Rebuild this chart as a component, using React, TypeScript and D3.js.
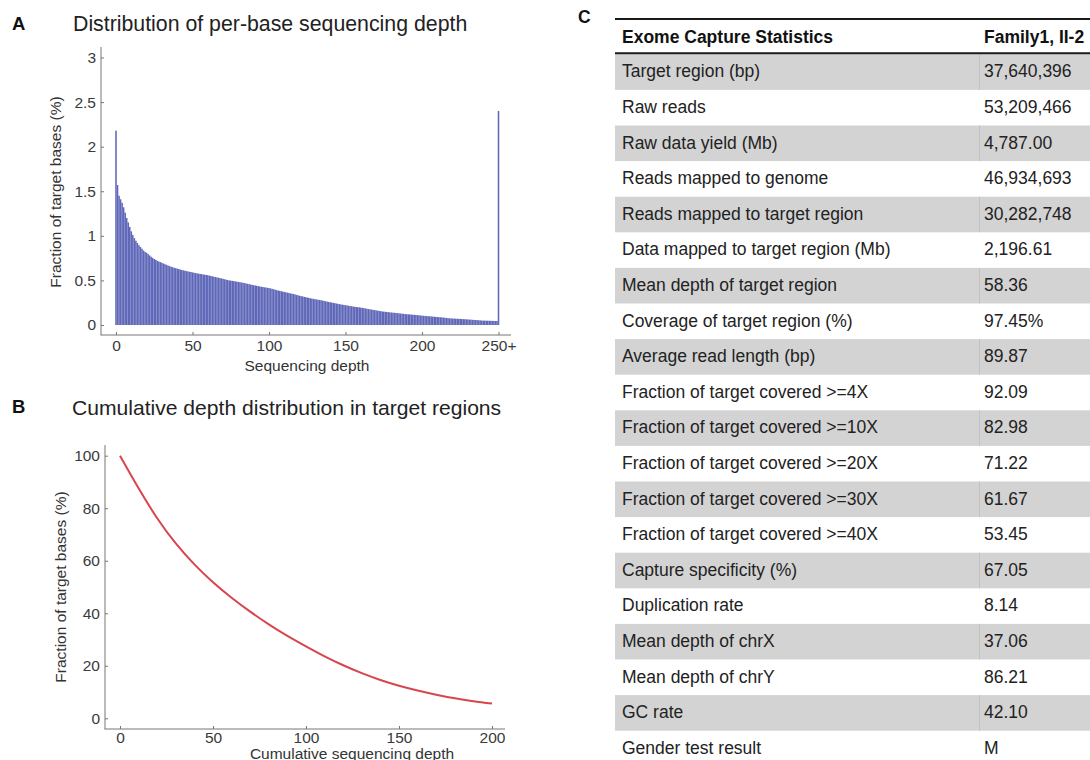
import React, { useEffect, useRef } from 'react';
import * as d3 from 'd3';

// A: fraction of target bases (%) per sequencing depth 0..250 (last bin is 250+)
const depthFraction = [
  2.18, 1.57, 1.45, 1.41, 1.37, 1.32, 1.26, 1.2, 1.15, 1.1,
  1.05, 1.01, 0.975, 0.945, 0.92, 0.895, 0.875, 0.855, 0.835, 0.82,
  0.81, 0.795, 0.78, 0.765, 0.752, 0.74, 0.73, 0.72, 0.712, 0.705,
  0.698, 0.69, 0.682, 0.674, 0.667, 0.66, 0.654, 0.648, 0.642, 0.637,
  0.632, 0.627, 0.622, 0.617, 0.613, 0.609, 0.605, 0.601, 0.597, 0.594,
  0.59, 0.586, 0.582, 0.579, 0.576, 0.573, 0.57, 0.567, 0.564, 0.561,
  0.558, 0.554, 0.55, 0.546, 0.542, 0.538, 0.534, 0.53, 0.526, 0.522,
  0.518, 0.513, 0.508, 0.504, 0.5, 0.498, 0.495, 0.492, 0.489, 0.486,
  0.483, 0.48, 0.477, 0.474, 0.47, 0.466, 0.462, 0.458, 0.454, 0.45,
  0.446, 0.443, 0.44, 0.436, 0.432, 0.429, 0.426, 0.423, 0.42, 0.417,
  0.414, 0.41, 0.406, 0.401, 0.396, 0.391, 0.387, 0.383, 0.379, 0.375,
  0.371, 0.367, 0.363, 0.359, 0.355, 0.351, 0.347, 0.343, 0.338, 0.333,
  0.328, 0.324, 0.32, 0.316, 0.312, 0.308, 0.304, 0.3, 0.296, 0.293,
  0.29, 0.287, 0.284, 0.281, 0.278, 0.274, 0.27, 0.266, 0.262, 0.258,
  0.255, 0.252, 0.248, 0.245, 0.241, 0.238, 0.234, 0.231, 0.228, 0.225,
  0.222, 0.219, 0.216, 0.213, 0.21, 0.207, 0.204, 0.202, 0.2, 0.198,
  0.195, 0.192, 0.189, 0.186, 0.182, 0.179, 0.176, 0.173, 0.17, 0.167,
  0.164, 0.161, 0.158, 0.155, 0.152, 0.15, 0.148, 0.146, 0.144, 0.142,
  0.14, 0.138, 0.137, 0.135, 0.133, 0.131, 0.129, 0.127, 0.125, 0.123,
  0.121, 0.12, 0.118, 0.117, 0.115, 0.114, 0.112, 0.111, 0.109, 0.107,
  0.105, 0.103, 0.102, 0.1, 0.099, 0.097, 0.096, 0.094, 0.093, 0.091,
  0.09, 0.088, 0.087, 0.085, 0.083, 0.081, 0.079, 0.077, 0.075, 0.074,
  0.073, 0.072, 0.071, 0.07, 0.069, 0.068, 0.067, 0.066, 0.065, 0.064,
  0.062, 0.061, 0.06, 0.058, 0.057, 0.056, 0.055, 0.053, 0.052, 0.05,
  0.049, 0.049, 0.048, 0.048, 0.047, 0.047, 0.046, 0.046, 0.045, 0.045,
  2.4,
];
const depthTicks = [0, 50, 100, 150, 200, 250];
const depthTickLabels = ['0', '50', '100', '150', '200', '250+'];
const fractionTicks = [0, 0.5, 1, 1.5, 2, 2.5, 3];

// B: cumulative depth distribution
const cumDepth = [0, 10, 20, 30, 40, 50, 60, 70, 80, 90, 100, 110, 120, 130, 140, 150, 160, 170, 180, 190, 200];
const cumFraction = [100, 87.6, 76.2, 66.6, 58.6, 51.8, 45.9, 40.6, 35.8, 31.4, 27.4, 23.6, 20.2, 17.2, 14.6, 12.4, 10.6, 9.0, 7.6, 6.5, 5.6];
const cumXTicks = [0, 50, 100, 150, 200];
const cumYTicks = [0, 20, 40, 60, 80, 100];

// C: exome capture statistics
const statHeader = ['Exome Capture Statistics', 'Family1, II-2'];
const statLabels = [
  'Target region (bp)',
  'Raw reads',
  'Raw data yield (Mb)',
  'Reads mapped to genome',
  'Reads mapped to target region',
  'Data mapped to target region (Mb)',
  'Mean depth of target region',
  'Coverage of target region (%)',
  'Average read length (bp)',
  'Fraction of target covered >=4X',
  'Fraction of target covered >=10X',
  'Fraction of target covered >=20X',
  'Fraction of target covered >=30X',
  'Fraction of target covered >=40X',
  'Capture specificity (%)',
  'Duplication rate',
  'Mean depth of chrX',
  'Mean depth of chrY',
  'GC rate',
  'Gender test result',
];
const statValues = [
  '37,640,396', '53,209,466', '4,787.00', '46,934,693', '30,282,748', '2,196.61', '58.36', '97.45%',
  '89.87', '92.09', '82.98', '71.22', '61.67', '53.45', '67.05', '8.14', '37.06', '86.21', '42.10', 'M',
];

const FONT = "'Liberation Sans', Arial, Helvetica, sans-serif";
const AXIS_COLOR = '#777';
const TICK_TEXT = '#3a3a3a';

function styleAxis(sel: any) {
  sel.select('.domain').remove();
  sel.selectAll('.tick line').attr('stroke', AXIS_COLOR);
  sel.selectAll('.tick text')
    .attr('fill', TICK_TEXT)
    .style('font-size', '15.5px')
    .style('font-family', FONT);
}

export default function App() {
  const axA_y = useRef<SVGGElement>(null);
  const axA_x = useRef<SVGGElement>(null);
  const axB_y = useRef<SVGGElement>(null);
  const axB_x = useRef<SVGGElement>(null);

  // panel A scales
  const xA = d3.scaleLinear().domain([0, 250]).range([116, 498.5]);
  const yA = d3.scaleLinear().domain([0, 3]).range([325, 57.5]);
  const barW = xA(1) - xA(0);

  // panel B scales
  const xB = d3.scaleLinear().domain([0, 200]).range([120, 492]);
  const yB = d3.scaleLinear().domain([0, 100]).range([718.3, 455.7]);
  const cumLine = d3.line<number>()
    .x((d, i) => xB(cumDepth[i]))
    .y(d => yB(d))
    .curve(d3.curveNatural);

  // table rows
  const rowY = d3.scaleBand<number>()
    .domain(statLabels.map((d, i) => i))
    .range([54.3, 54.3 + statLabels.length * 35.6]);

  useEffect(() => {
    d3.select(axA_y.current).selectAll('*').remove();
    d3.select(axA_x.current).selectAll('*').remove();
    d3.select(axB_y.current).selectAll('*').remove();
    d3.select(axB_x.current).selectAll('*').remove();

    d3.select(axA_y.current)
      .call(d3.axisLeft(yA).tickValues(fractionTicks).tickSize(-3).tickPadding(5).tickFormat((d: any) => String(d)) as any)
      .call(styleAxis);
    d3.select(axA_x.current)
      .call(d3.axisBottom(xA).tickValues(depthTicks).tickSize(-3).tickPadding(5)
        .tickFormat((d: any, i: number) => depthTickLabels[i]) as any)
      .call(styleAxis);

    d3.select(axB_y.current)
      .call(d3.axisLeft(yB).tickValues(cumYTicks).tickSize(-3).tickPadding(5).tickFormat((d: any) => String(d)) as any)
      .call(styleAxis);
    d3.select(axB_x.current)
      .call(d3.axisBottom(xB).tickValues(cumXTicks).tickSize(-3).tickPadding(3).tickFormat((d: any) => String(d)) as any)
      .call(styleAxis);
  }, []);

  return (
    <svg width={1090} height={760} style={{ position: 'absolute', left: 0, top: 0, background: '#fff' }} fontFamily={FONT}>
      {/* ---------- Panel A ---------- */}
      <text x={12} y={30} fontSize={18.5} fontWeight="bold" fill="#111">A</text>
      <text x={73} y={31} fontSize={21.3} fill="#222">Distribution of per-base sequencing depth</text>
      <g>
        {depthFraction.map((v, i) => (
          <rect key={i} x={xA(i) - barW / 2} y={yA(v)} width={barW} height={yA(0) - yA(v)} fill="#5f67b8" />
        ))}
      </g>
      <line x1={101} x2={101} y1={47} y2={335} stroke={AXIS_COLOR} />
      <line x1={100.5} x2={511} y1={335} y2={335} stroke={AXIS_COLOR} />
      <g ref={axA_y} transform="translate(101,0)" />
      <g ref={axA_x} transform="translate(0,335)" />
      <text x={307} y={371} fontSize={15.5} fill="#333" textAnchor="middle">Sequencing depth</text>
      <text transform="translate(61,192) rotate(-90)" fontSize={15.5} fill="#333" textAnchor="middle">
        Fraction of target bases (%)
      </text>

      {/* ---------- Panel B ---------- */}
      <text x={12} y={413} fontSize={18.5} fontWeight="bold" fill="#111">B</text>
      <text x={72} y={415} fontSize={21.1} fill="#222">Cumulative depth distribution in target regions</text>
      <path d={cumLine(cumFraction) || ''} fill="none" stroke="#d8454c" strokeWidth={2} />
      <line x1={105} x2={105} y1={445} y2={729} stroke={AXIS_COLOR} />
      <line x1={104.5} x2={505} y1={729} y2={729} stroke={AXIS_COLOR} />
      <g ref={axB_y} transform="translate(105,0)" />
      <g ref={axB_x} transform="translate(0,729)" />
      <text x={352} y={758.5} fontSize={15.5} fill="#333" textAnchor="middle">Cumulative sequencing depth</text>
      <text transform="translate(66,587) rotate(-90)" fontSize={15.5} fill="#333" textAnchor="middle">
        Fraction of target bases (%)
      </text>

      {/* ---------- Panel C ---------- */}
      <text x={578} y={23} fontSize={17.5} fontWeight="bold" fill="#111">C</text>
      <g>
        {statLabels.map((d, i) =>
          i % 2 === 0 ? (
            <rect key={'bg' + i} x={615} y={rowY(i)} width={475} height={rowY.bandwidth()} fill="#d3d3d3" />
          ) : null
        )}
        {statLabels.map((d, i) =>
          i % 2 === 0 ? (
            <line key={'dv' + i} x1={979.5} x2={979.5} y1={rowY(i)} y2={(rowY(i) as number) + rowY.bandwidth()} stroke="#c2c2c2" />
          ) : null
        )}
        <line x1={615} x2={1090} y1={19} y2={19} stroke="#1a1a1a" strokeWidth={2} />
        <line x1={615} x2={1090} y1={53.3} y2={53.3} stroke="#1a1a1a" strokeWidth={2} />
        <text x={622} y={43.3} fontSize={17.5} fontWeight="bold" fill="#111">{statHeader[0]}</text>
        <text x={984} y={43.3} fontSize={17.5} fontWeight="bold" fill="#111">{statHeader[1]}</text>
        {statLabels.map((d, i) => (
          <text key={'l' + i} x={622} y={(rowY(i) as number) + 23} fontSize={17.5} fill="#222">{d}</text>
        ))}
        {statValues.map((d, i) => (
          <text key={'v' + i} x={984} y={(rowY(i) as number) + 23} fontSize={17.5} fill="#222">{d}</text>
        ))}
      </g>
    </svg>
  );
}
